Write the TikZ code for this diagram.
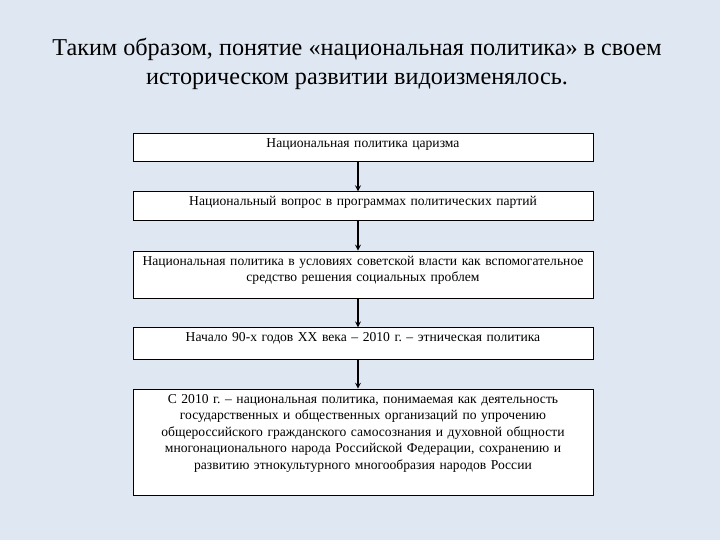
\documentclass[tikz,border=0pt]{standalone}
\usepackage{fontspec}
\setmainfont{Liberation Serif}
\newfontfamily\timesfont{Liberation Serif}
\usepackage{tikz}
\usetikzlibrary{positioning}
\definecolor{bgblue}{RGB}{223,232,242}
\frenchspacing

\begin{document}
\begin{tikzpicture}[x=1pt, y=-1pt,
        stage/.style={draw, thick, fill=white, text width=456pt, align=center,
            inner xsep=2pt, inner ysep=4pt, text height=10pt,
            font=\timesfont\fontsize{13.6}{16.6}\selectfont},
        link/.style={->, >=stealth, line width=1.6pt}]
        % Draw the background
        \useasboundingbox[fill=bgblue] (0,0) rectangle (720,540);

        % Draw the title
        \node[align=center, font=\timesfont\fontsize{24.2}{28.5}\selectfont] (title) at (357,64)
            {Таким образом, понятие «национальная политика» в своем\\
             историческом развитии видоизменялось.};

        % Draw the stages
        \node[stage, anchor=north, text depth=10pt] (tsar) at (363,133) {Национальная политика царизма};
        \node[stage, below=29.5pt of tsar, text depth=11pt] (parties) {Национальный вопрос в программах политических партий};
        \node[stage, below=29.5pt of parties, text depth=29pt] (soviet)
            {Национальная политика в условиях советской власти как вспомогательное\\
             средство решения социальных проблем};
        \node[stage, below=29pt of soviet, text depth=13.5pt] (ethnic) {Начало 90-х годов XX века – 2010 г. – этническая политика};
        \node[stage, below=29pt of ethnic, text depth=88pt] (modern)
            {С 2010 г. – национальная политика, понимаемая как деятельность\\
             государственных и общественных организаций по упрочению\\
             общероссийского гражданского самосознания и духовной общности\\
             многонационального народа Российской Федерации, сохранению и\\
             развитию этнокультурного многообразия народов России};

        % Draw the arrows between stages
        \draw[link] ([xshift=-5pt]tsar.south) -- ([xshift=-5pt]parties.north);
        \draw[link] ([xshift=-5pt]parties.south) -- ([xshift=-5pt]soviet.north);
        \draw[link] ([xshift=-5pt]soviet.south) -- ([xshift=-5pt]ethnic.north);
        \draw[link] ([xshift=-5pt]ethnic.south) -- ([xshift=-5pt]modern.north);
    \end{tikzpicture}
\end{document}
